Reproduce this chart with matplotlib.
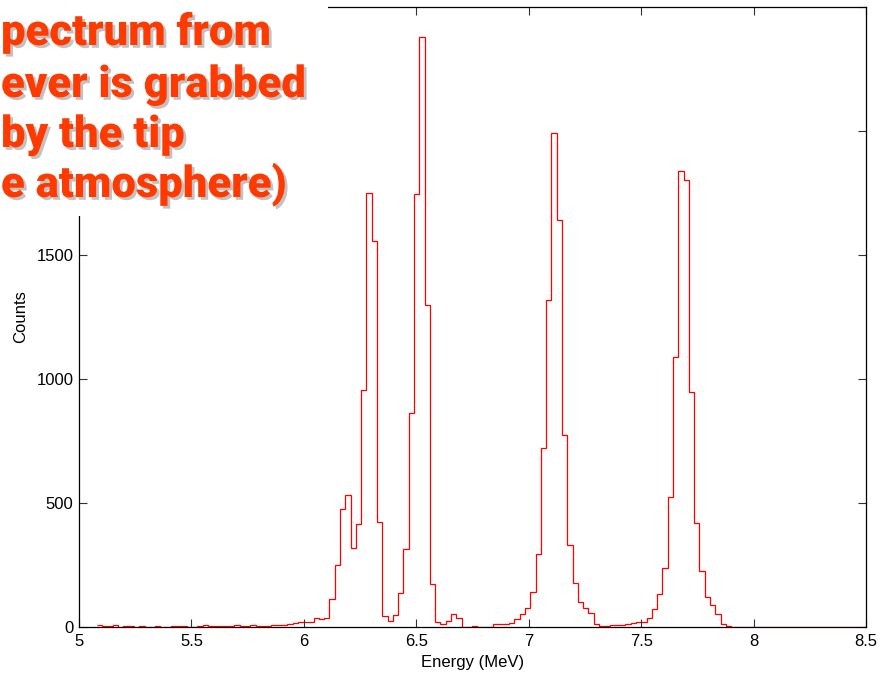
import numpy as np
import matplotlib
matplotlib.use("Agg")
import matplotlib.pyplot as plt
import matplotlib.patheffects as pe
from matplotlib.patches import Rectangle

# ---- data ----
first_edge = 5.08      # MeV, left edge of first bin
bin_width = 0.0235     # MeV
counts = [7, 3, 3, 7, 2, 3, 3, 2, 3, 1, 2, 3, 2, 0, 3, 3, 3, 0, 2, 5,
          7, 3, 3, 3, 3, 3, 7, 3, 3, 7, 3, 3, 3, 8, 8, 8, 12, 17, 20, 19,
          19, 35, 32, 36, 112, 250, 474, 532, 318, 414, 955, 1749, 1558, 425, 46, 25,
          48, 136, 316, 862, 1745, 2380, 1300, 173, 19, 11, 25, 52, 35, 2,
          1, 5, 1, 0, 1, 13, 13, 11, 15, 31, 51, 78, 142, 294, 720, 1320,
          1991, 1641, 774, 329, 176, 101, 77, 55, 11, 5, 3, 7, 7, 7, 11, 16,
          20, 20, 35, 71, 133, 237, 525, 1089, 1839, 1801, 948, 418, 227, 120,
          89, 52, 12, 3] + [0] * 26
x_ticks = [5, 5.5, 6, 6.5, 7, 7.5, 8, 8.5]
x_tick_labels = ["5", "5.5", "6", "6.5", "7", "7.5", "8", "8.5"]
y_ticks = [0, 500, 1000, 1500, 2000, 2500]
# 2000 and 2500 are hidden behind the slide's white text box in the reference
y_tick_labels = ["0", "500", "1000", "1500", "", ""]
# visible part of the overlaid slide text
overlay_lines = ["pectrum from", "ever is grabbed", "by the tip", "e atmosphere)"]

edges = first_edge + bin_width * np.arange(len(counts) + 1)

W, H = 895, 674
fig = plt.figure(figsize=(W / 100, H / 100), dpi=100)
fig.patch.set_facecolor("white")
plt.rcParams["font.family"] = ["Liberation Sans", "DejaVu Sans"]

ax = fig.add_axes([79 / W, 1 - 627 / H, (866 - 79) / W, (627 - 7) / H])
ax.stairs(counts, edges, baseline=None, color="#ff0000", linewidth=0.9)
ax.set_xlim(5, 8.5)
ax.set_ylim(0, 2500)
ax.set_xticks(x_ticks)
ax.set_xticklabels(x_tick_labels)
ax.set_yticks(y_ticks)
ax.set_yticklabels(y_tick_labels)
ax.tick_params(direction="in", length=5.5, width=0.8, top=True, right=True,
               labelsize=12, color="#333333")
ax.tick_params(axis="x", pad=5)
ax.tick_params(axis="y", pad=4)
for s in ax.spines.values():
    s.set_linewidth(0.9)
    s.set_color("black")
ax.set_xlabel("Energy (MeV)", fontsize=12)
ax.set_ylabel("Counts", fontsize=12)
ax.xaxis.set_label_coords(0.5, (627 - 655) / 620)
ax.yaxis.set_label_coords((28 - 79) / 787, 0.5)

# white box of the slide overlay
fig.add_artist(Rectangle((0, 1 - 216 / H), 328 / W, 216 / H, transform=fig.transFigure,
                         facecolor="white", edgecolor="none", zorder=5))

line_base = [45, 97, 147, 197]
texts = []
for txt, yb in zip(overlay_lines, line_base):
    t = fig.text(1 / W, 1 - yb / H, txt, ha="left", va="baseline",
                 fontsize=31, fontweight="black", family=["Roboto", "DejaVu Sans"],
                 color="#ff3a00", zorder=6,
                 path_effects=[pe.SimplePatchShadow(offset=(2, -2), shadow_rgbFace="#9a9a9a", alpha=0.6),
                               pe.Normal()])
    texts.append(t)

# scale the overlay font so the second line spans about 305 px, as in the slide
renderer = fig.canvas.get_renderer()
w2 = texts[1].get_window_extent(renderer).width
fs = 31 * 304 / w2
for t in texts:
    t.set_fontsize(fs)

fig.savefig("out.png", dpi=100, facecolor="white")
